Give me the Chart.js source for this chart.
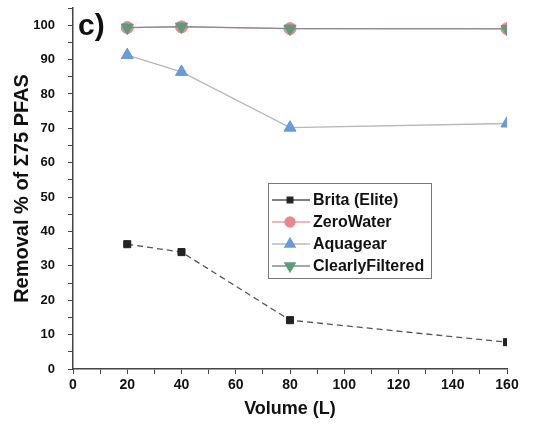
<!DOCTYPE html>
<html>
<head>
<meta charset="utf-8">
<script src="https://cdn.jsdelivr.net/npm/chart.js@4.4.1/dist/chart.umd.min.js"></script>
<style>
  html, body { margin: 0; padding: 0; background: #fff; }
  #wrap { width: 542px; height: 428px; }
</style>
</head>
<body>
<div id="wrap"><canvas id="myChart" width="542" height="428"></canvas></div>
<script>
// Data
const volumes = [20, 40, 80, 160];
const brita = [36.3, 34.0, 14.2, 7.8];
const zeroWater = [99.3, 99.5, 99.0, 99.0];
const aquagear = [91.3, 86.4, 70.2, 71.4];
const clearlyFiltered = [99.3, 99.6, 99.0, 98.9];
const seriesNames = ['Brita (Elite)', 'ZeroWater', 'Aquagear', 'ClearlyFiltered'];

const font = 'Liberation Sans, Arial, sans-serif';

function toPoints(values) {
  return volumes.map((v, i) => ({ x: v, y: values[i] }));
}

// Series styles (marker + line)
const styles = [
  { color: '#222222', line: '#555555', dash: [6, 4], point: 'rect', rotation: 0, radius: 5 },
  { color: '#e8878c', line: '#e8a0a4', dash: [], point: 'circle', rotation: 0, radius: 6 },
  { color: '#6b9bd4', line: '#b8b8b8', dash: [], point: 'triangle', rotation: 0, radius: 7 },
  { color: '#5f9a7f', line: '#8a8a8a', dash: [], point: 'triangle', rotation: 180, radius: 7 }
];
const allValues = [brita, zeroWater, aquagear, clearlyFiltered];

const datasets = allValues.map((vals, i) => ({
  label: seriesNames[i],
  data: toPoints(vals),
  order: 3 - i, // later series drawn on top
  borderColor: styles[i].line,
  borderWidth: 1.3,
  borderDash: styles[i].dash,
  pointStyle: styles[i].point,
  pointRotation: styles[i].rotation,
  pointRadius: styles[i].radius,
  pointBackgroundColor: styles[i].color,
  pointBorderColor: styles[i].color,
  pointBorderWidth: 1,
  tension: 0
}));

// Panel label "c)"
const panelLabel = {
  id: 'panelLabel',
  afterDraw(chart) {
    const ctx = chart.ctx;
    ctx.save();
    ctx.fillStyle = '#111';
    ctx.font = 'bold 30px ' + font;
    ctx.textBaseline = 'top';
    ctx.fillText('c)', 78, 12);
    ctx.restore();
  }
};

// Boxed legend inside the plot
const boxLegend = {
  id: 'boxLegend',
  afterDraw(chart) {
    const ctx = chart.ctx;
    const left = 268, top = 183, w = 163, h = 95, rowH = 22;
    ctx.save();
    ctx.fillStyle = '#fff';
    ctx.fillRect(left, top, w, h);
    ctx.strokeStyle = '#777';
    ctx.lineWidth = 1;
    ctx.strokeRect(left + 0.5, top + 0.5, w, h);
    seriesNames.forEach((name, i) => {
      const y = top + 17 + i * rowH;
      const s = styles[i];
      ctx.strokeStyle = s.line;
      ctx.lineWidth = 1.3;
      ctx.setLineDash([]);
      ctx.beginPath();
      ctx.moveTo(left + 4, y);
      ctx.lineTo(left + 42, y);
      ctx.stroke();
      ctx.fillStyle = s.color;
      ctx.strokeStyle = s.color;
      Chart.helpers.drawPoint(ctx, {
        pointStyle: s.point, radius: s.radius - 1, rotation: s.rotation, borderWidth: 1
      }, left + 22, y);
      ctx.fillStyle = '#111';
      ctx.font = 'bold 16px ' + font;
      ctx.textBaseline = 'middle';
      ctx.fillText(name, left + 45, y + 1);
    });
    ctx.restore();
  }
};

const ctx = document.getElementById('myChart').getContext('2d');
const myChart = new Chart(ctx, {
  type: 'line',
  data: { datasets: datasets },
  options: {
    responsive: false,
    animation: false,
    layout: { padding: { top: 5, right: 35, bottom: 0, left: 0 } },
    plugins: { legend: { display: false }, tooltip: { enabled: false } },
    scales: {
      x: {
        type: 'linear',
        min: 0,
        max: 160,
        grid: { drawOnChartArea: false, tickLength: 5, color: '#444', tickColor: '#444' },
        border: { color: '#444', width: 1.5 },
        ticks: {
          stepSize: 10,
          autoSkip: false,
          maxRotation: 0,
          minRotation: 0,
          color: '#111',
          padding: 3,
          font: { family: font, size: 14, weight: 'bold' },
          callback: v => (v % 20 === 0 ? v : '')
        },
        title: {
          display: true,
          text: 'Volume (L)',
          color: '#111',
          font: { family: font, size: 18, weight: 'bold' },
          padding: { top: 6, bottom: 8 }
        },
        afterFit: s => { s.height = 59; }
      },
      y: {
        min: 0,
        max: 105,
        grid: { drawOnChartArea: false, tickLength: 5, color: '#444', tickColor: '#444' },
        border: { color: '#444', width: 1.5 },
        ticks: {
          stepSize: 5,
          autoSkip: false,
          color: '#111',
          padding: 13,
          font: { family: font, size: 13, weight: 'bold' },
          callback: v => (v % 10 === 0 && v <= 100 ? v : '')
        },
        title: {
          display: true,
          text: 'Removal % of Σ75 PFAS',
          color: '#111',
          font: { family: font, size: 20, weight: 'bold' },
          padding: { top: 10, bottom: 4 }
        },
        afterFit: s => { s.width = 73; s.paddingTop = 0; }
      }
    }
  },
  plugins: [panelLabel, boxLegend]
});
</script>
</body>
</html>
